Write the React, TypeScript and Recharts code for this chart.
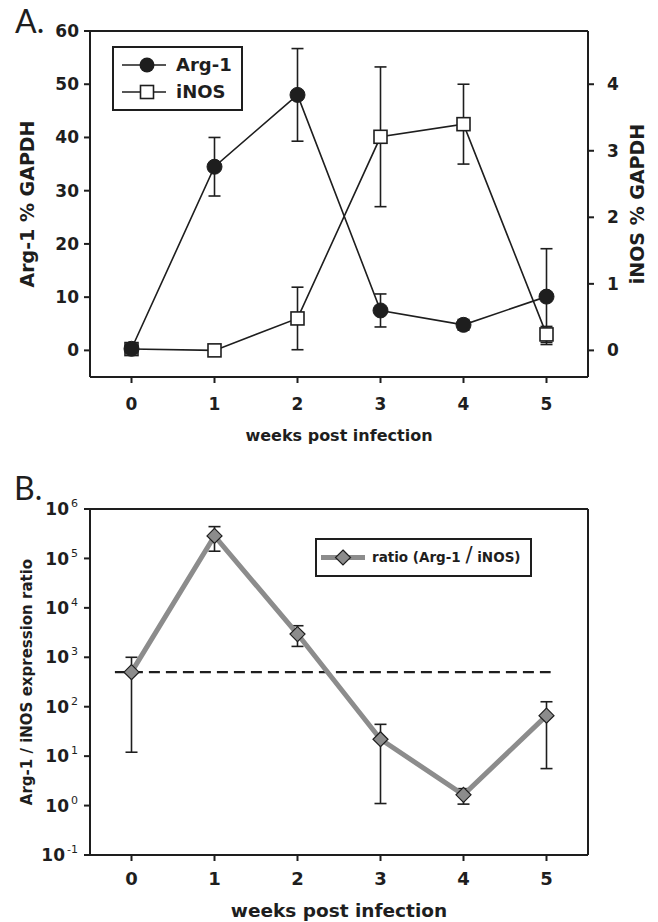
import React from 'react';
import { LineChart, Line, XAxis, YAxis, ErrorBar, Legend, ReferenceLine, Label } from 'recharts';

const FONT = '"DejaVu Sans", "Liberation Sans", sans-serif';
const INK = '#1e1e1e';
const GRAY = '#8c8c8c';

// ---- data ----
const weeks = [0, 1, 2, 3, 4, 5];
const arg1Mean = [0.3, 34.5, 48.0, 7.5, 4.8, 10.1];
const arg1Err = [0.6, 5.5, 8.7, 3.1, 1.0, 9.0];
const inosMean = [0.02, 0.0, 0.48, 3.21, 3.4, 0.24];
const inosErr = [0.03, 0.0, 0.47, 1.05, 0.6, 0.12];

const ratioMean = [500, 285000, 2950, 22, 1.65, 66];
const ratioErrLow = [488, 145000, 1290, 20.9, 0.58, 60.4];
const ratioErrHigh = [500, 155000, 1400, 22, 0.55, 60];
const ratioThreshold = 500;

const arg1Ticks = [0, 10, 20, 30, 40, 50, 60];
const inosTicks = [0, 1, 2, 3, 4];
const ratioTicks = [0.1, 1, 10, 100, 1000, 10000, 100000, 1000000];

const dataA = weeks.map((w, i) => ({
  week: w,
  arg1: arg1Mean[i],
  arg1Err: arg1Err[i],
  inos: inosMean[i],
  inosErr: inosErr[i],
}));

const dataB = weeks.map((w, i) => ({
  week: w,
  ratio: ratioMean[i],
  ratioErr: [ratioErrLow[i], ratioErrHigh[i]],
}));

const axisLine = { stroke: INK, strokeWidth: 2 };

const SquareDot = (props: any) => {
  const { cx, cy, index } = props;
  if (cx == null || cy == null) return null;
  return (
    <rect key={`sq-${index}`} x={cx - 6.5} y={cy - 6.5} width={13} height={13}
      fill="#fff" stroke={INK} strokeWidth={1.6} />
  );
};

const DiamondDot = (props: any) => {
  const { cx, cy, index } = props;
  if (cx == null || cy == null) return null;
  const h = 7.5;
  return (
    <polygon key={`dm-${index}`}
      points={`${cx},${cy - h} ${cx + h},${cy} ${cx},${cy + h} ${cx - h},${cy}`}
      fill={GRAY} stroke={INK} strokeWidth={1.2} />
  );
};

const PowerTick = (props: any) => {
  const { x, y, payload } = props;
  const exp = Math.round(Math.log10(payload.value));
  return (
    <text x={x} y={y} textAnchor="end" fill={INK} fontFamily={FONT} style={{ whiteSpace: 'pre' }}>
      <tspan dy="0.36em" fontSize={17} fontWeight="bold">10</tspan>
      <tspan dx={2} dy={-8} fontSize={11}>{String(exp)}</tspan>
    </text>
  );
};

const LegendA = () => (
  <svg width={131} height={65}>
    <rect x={1} y={1} width={129} height={63} fill="#fff" stroke={INK} strokeWidth={2} />
    <line x1={10} y1={19} x2={54} y2={19} stroke={INK} strokeWidth={1.6} />
    <circle cx={35} cy={19} r={7.5} fill={INK} />
    <text x={64} y={19} dy="0.36em" fontSize={18} fontWeight="bold" fontFamily={FONT} fill={INK}>Arg-1</text>
    <line x1={10} y1={46} x2={54} y2={46} stroke={INK} strokeWidth={1.6} />
    <rect x={28.5} y={39.5} width={13} height={13} fill="#fff" stroke={INK} strokeWidth={1.6} />
    <text x={64} y={46} dy="0.36em" fontSize={18} fontWeight="bold" fontFamily={FONT} fill={INK}>iNOS</text>
  </svg>
);

const LegendB = () => (
  <svg width={217} height={39}>
    <rect x={1} y={1} width={215} height={37} fill="#fff" stroke={INK} strokeWidth={2} />
    <line x1={6} y1={19.5} x2={50} y2={19.5} stroke={GRAY} strokeWidth={5} />
    <polygon points="28,12 35.5,19.5 28,27 20.5,19.5" fill={GRAY} stroke={INK} strokeWidth={1.2} />
    <text x={57} y={19.5} fill={INK} fontFamily={FONT} style={{ whiteSpace: 'pre' }}>
      <tspan dy="0.36em" fontSize={13.5} fontWeight="bold">ratio (Arg-1 </tspan>
      <tspan fontSize={21} fontWeight="normal">/</tspan>
      <tspan fontSize={13.5} fontWeight="bold"> iNOS)</tspan>
    </text>
  </svg>
);

const tickA = { fontSize: 17, fontWeight: 'bold', fill: INK, fontFamily: FONT };
const tickB = { fontSize: 18, fontWeight: 'bold', fill: INK, fontFamily: FONT };

export default function App() {
  return (
    <div style={{ position: 'absolute', left: 0, top: 0, width: 658, height: 922, background: '#fff' }}>
      {/* Panel A */}
      <div style={{ position: 'absolute', left: 0, top: 0 }}>
        <LineChart width={658} height={460} data={dataA}
          margin={{ top: 30, right: 10, bottom: 19, left: 10 }}>
          <XAxis dataKey="week" type="number" domain={[-0.5, 5.5]} ticks={weeks}
            allowDataOverflow height={64} tickSize={6} tickMargin={15}
            axisLine={axisLine} tickLine={axisLine} tick={tickA}>
            <Label value="weeks post infection" position="insideBottom" offset={0}
              style={{ fontSize: 16, fontWeight: 'bold', fill: INK, fontFamily: FONT }} />
          </XAxis>
          <XAxis xAxisId="top" orientation="top" type="number" domain={[-0.5, 5.5]}
            ticks={weeks} height={1} tick={false} tickLine={false} axisLine={axisLine} />
          <YAxis yAxisId="left" type="number" domain={[-5, 60]} ticks={arg1Ticks}
            allowDataOverflow width={80} tickSize={6} tickMargin={5}
            axisLine={axisLine} tickLine={axisLine} tick={tickA}>
            <Label value="Arg-1 % GAPDH" angle={-90} position="insideLeft" offset={17}
              style={{ fontSize: 19, fontWeight: 'bold', fill: INK, fontFamily: FONT, textAnchor: 'middle' }} />
          </YAxis>
          <YAxis yAxisId="right" orientation="right" type="number" domain={[-0.4, 4.8]} ticks={inosTicks}
            allowDataOverflow width={60} tickSize={6} tickMargin={13}
            axisLine={axisLine} tickLine={axisLine} tick={tickA}>
            <Label value="iNOS % GAPDH" angle={-90} position="insideRight" offset={11}
              style={{ fontSize: 19, fontWeight: 'bold', fill: INK, fontFamily: FONT, textAnchor: 'middle' }} />
          </YAxis>
          <Line yAxisId="right" dataKey="inos" name="iNOS" stroke={INK} strokeWidth={1.6}
            dot={SquareDot} activeDot={false} isAnimationActive={false}>
            <ErrorBar dataKey="inosErr" width={6} stroke={INK} strokeWidth={1.6} direction="y" />
          </Line>
          <Line yAxisId="left" dataKey="arg1" name="Arg-1" stroke={INK} strokeWidth={1.6}
            dot={{ r: 7.5, fill: INK, stroke: INK, strokeWidth: 1 }} activeDot={false} isAnimationActive={false}>
            <ErrorBar dataKey="arg1Err" width={6} stroke={INK} strokeWidth={1.6} direction="y" />
          </Line>
          <Legend content={LegendA} layout="vertical" align="center" verticalAlign="middle"
            wrapperStyle={{ left: 112, top: 46, width: 131, height: 65 }} />
        </LineChart>
      </div>

      {/* Panel B */}
      <div style={{ position: 'absolute', left: 0, top: 470 }}>
        <LineChart width={658} height={452} data={dataB}
          margin={{ top: 38, right: 10, bottom: 5, left: 10 }}>
          <XAxis dataKey="week" type="number" domain={[-0.5, 5.5]} ticks={weeks}
            allowDataOverflow height={62} tickSize={6} tickMargin={11}
            axisLine={axisLine} tickLine={axisLine} tick={tickB}>
            <Label value="weeks post infection" position="insideBottom" offset={0}
              style={{ fontSize: 18.5, fontWeight: 'bold', fill: INK, fontFamily: FONT }} />
          </XAxis>
          <XAxis xAxisId="top" orientation="top" type="number" domain={[-0.5, 5.5]}
            ticks={weeks} height={1} tick={false} tickLine={false} axisLine={axisLine} />
          <YAxis yAxisId="left" type="number" scale="log" domain={[0.1, 1000000]} ticks={ratioTicks}
            allowDataOverflow width={80} tickSize={6} tickMargin={6}
            axisLine={axisLine} tickLine={axisLine} tick={PowerTick}>
            <Label value="Arg-1 / iNOS expression ratio" angle={-90} position="insideLeft" offset={17}
              style={{ fontSize: 15, fontWeight: 'bold', fill: INK, fontFamily: FONT, textAnchor: 'middle' }} />
          </YAxis>
          <YAxis yAxisId="frame" orientation="right" type="number" domain={[0, 1]}
            width={60} tick={false} tickLine={false} axisLine={axisLine} />
          <ReferenceLine yAxisId="left"
            segment={[{ x: -0.2, y: ratioThreshold }, { x: 5.05, y: ratioThreshold }]}
            stroke={INK} strokeWidth={2.4} strokeDasharray="11 6" />
          <Line yAxisId="left" dataKey="ratio" name="ratio (Arg-1 / iNOS)" stroke={GRAY} strokeWidth={5}
            dot={DiamondDot} activeDot={false} isAnimationActive={false}>
            <ErrorBar dataKey="ratioErr" width={6} stroke={INK} strokeWidth={1.6} direction="y" />
          </Line>
          <Legend content={LegendB} layout="vertical" align="center" verticalAlign="middle"
            wrapperStyle={{ left: 315, top: 68, width: 217, height: 39 }} />
        </LineChart>
      </div>

      {/* Panel letters */}
      <svg style={{ position: 'absolute', left: 0, top: 0, pointerEvents: 'none' }} width={60} height={520}>
        <text x={15} y={33} fontSize={32} fontFamily='Lato, "Liberation Sans", sans-serif' fill={INK}>A.</text>
        <text x={14} y={500} fontSize={32} fontFamily='Lato, "Liberation Sans", sans-serif' fill={INK}>B.</text>
      </svg>
    </div>
  );
}
